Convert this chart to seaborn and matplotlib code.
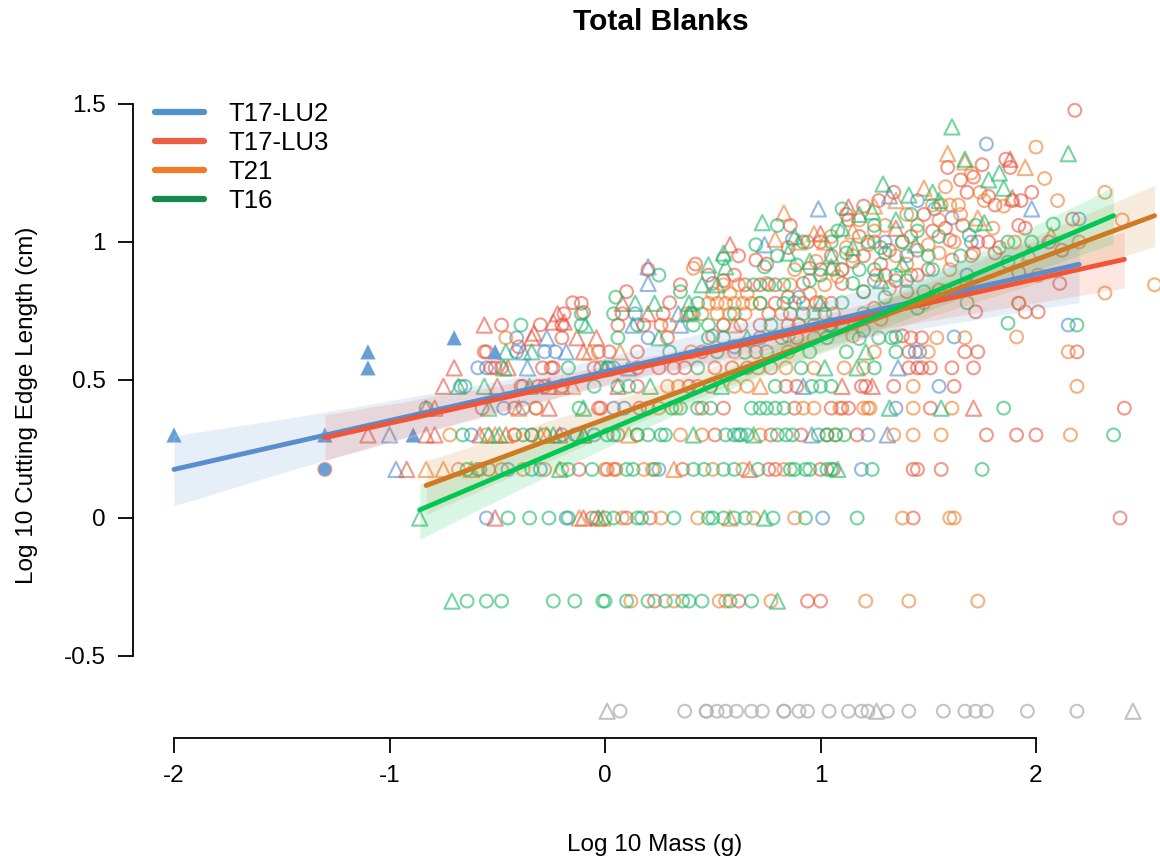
import numpy as np
import pandas as pd
import matplotlib
matplotlib.use("Agg")
import matplotlib.pyplot as plt
from matplotlib.lines import Line2D
import seaborn as sns

# groups, legend order
groups = ["T17-LU2", "T17-LU3", "T21", "T16"]

# ---- T17-LU2 (blue) ----
lu2_tri_filled = [(-2.0, 0.301), (-1.30, 0.301), (-1.10, 0.602), (-1.10, 0.544), (-0.70, 0.653),
                  (-0.89, 0.301), (-0.51, 0.602)]
lu2_circ_filled = [(-1.30, 0.176)]
lu2_tri = [(-1.00, 0.301), (-0.97, 0.176), (-0.38, 0.602), (-0.36, 0.544), (-0.27, 0.653), (-0.18, 0.602),
           (0.11, 0.544), (0.13, 0.699), (0.34, 0.74), (0.35, 0.699), (0.20, 0.91), (0.20, 0.85), (0.74, 0.99),
           (0.92, 0.477), (0.96, 0.301), (0.99, 1.12), (1.31, 0.301), (1.36, 0.544), (1.32, 1.167), (1.98, 1.12)]
lu2_circ = [(-0.67, 0.477), (-0.59, 0.544), (-0.55, 0.544), (-0.55, 0), (-0.47, 0.398), (-0.38, 0.398),
            (-0.45, 0.176), (-0.41, 0.602), (-0.41, 0.653), (-0.28, 0.602), (-0.23, 0.602), (-0.18, 0),
            (-0.13, 0.301), (-0.05, 0.301), (0.04, 0.398), (0.09, 0.398), (0.04, 0.544), (0.14, 0.74),
            (0.20, 0.653), (0.55, 0.699), (0.72, 0.653), (0.87, 1.01), (1.01, 0), (1.19, 0.176), (1.22, 0.301),
            (1.35, 0.398), (1.44, 0.602), (1.46, 0.602), (1.53, 1.12), (1.55, 0.477), (1.61, 1.087),
            (1.62, 0.656), (1.68, 0.88), (1.77, 1.355), (2.15, 0.699), (2.20, 1.083), (0.50, 0.85),
            (0.90, 0.80), (1.10, 0.90), (1.20, 0.68), (0.60, 0.62), (1.40, 0.95),
            (1.30, 1.0), (1.70, 1.0), (1.25, 0.86), (0.62, 0.301), (1.45, 1.15),
            (-0.30, 0.176), (-0.62, 0.301), (-0.20, 0.301), (0.25, 0.176)]

# ---- T17-LU3 (red) ----
lu3_circ = [(0.23, -0.301), (0.62, -0.301), (0.94, -0.301), (1.00, -0.301),
            (-0.06, 0), (0.10, 0), (0.21, 0), (1.43, 0), (2.39, 0),
            (-1.30, 0.176), (-0.54, 0.176), (-0.12, 0.176), (0.01, 0.176), (0.05, 0.176), (0.36, 0.176),
            (0.76, 0.176), (0.79, 0.176), (1.00, 0.176), (1.06, 0.176), (1.43, 0.176), (1.45, 0.176), (1.56, 0.176),
            (-0.42, 0.301), (-0.34, 0.301), (0.06, 0.301), (0.51, 0.301), (0.77, 0.301), (0.91, 0.301),
            (1.03, 0.301), (1.17, 0.301), (1.77, 0.301), (1.91, 0.301), (2.00, 0.301),
            (-0.57, 0.398), (-0.42, 0.398), (-0.32, 0.398), (-0.03, 0.398), (-0.02, 0.398), (0.16, 0.398),
            (0.20, 0.398), (0.45, 0.398), (0.55, 0.398), (0.88, 0.398), (1.05, 0.398), (1.10, 0.398),
            (1.13, 0.398), (1.51, 0.398), (2.41, 0.398),
            (-0.39, 0.477), (-0.38, 0.477), (-0.31, 0.477), (-0.28, 0.477), (-0.20, 0.477), (0.15, 0.477),
            (0.39, 0.477), (0.43, 0.477), (0.49, 0.477), (0.84, 0.477), (0.89, 0.477), (1.19, 0.477),
            (1.21, 0.477), (1.34, 0.477), (1.62, 0.477),
            (-0.53, 0.544), (-0.51, 0.544), (-0.48, 0.544), (-0.29, 0.544), (-0.25, 0.544), (-0.24, 0.544),
            (-0.05, 0.544), (-0.02, 0.544), (0.15, 0.544), (0.25, 0.544), (0.32, 0.544), (0.37, 0.544),
            (0.51, 0.544), (0.59, 0.544), (0.66, 0.544), (0.77, 0.544), (1.41, 0.544), (1.45, 0.544),
            (1.47, 0.544), (1.51, 0.544), (1.61, 0.544), (1.71, 0.544),
            (-0.56, 0.602), (-0.55, 0.602), (-0.03, 0.602), (0.02, 0.602), (0.15, 0.602), (0.45, 0.602),
            (0.70, 0.602), (1.41, 0.602), (1.67, 0.602), (1.73, 0.602), (2.19, 0.602),
            (-0.20, 0.653), (0.29, 0.653), (0.89, 0.653), (1.42, 0.653), (1.47, 0.653),
            (-0.48, 0.699), (-0.20, 0.699), (0.06, 0.699), (0.18, 0.699), (0.26, 0.699), (0.63, 0.699),
            (0.72, 0.699), (0.85, 0.699),
            (-0.19, 0.74), (-0.10, 0.745), (0.08, 0.74), (0.27, 0.74), (0.76, 0.74), (0.86, 0.74),
            (1.72, 0.747), (1.95, 0.747), (2.01, 0.747),
            (-0.11, 0.778), (0.79, 0.778), (0.92, 0.778), (1.05, 0.778), (1.92, 0.778),
            (0.35, 0.845), (0.65, 0.845), (0.72, 0.845), (0.79, 0.845), (2.11, 0.85),
            (0.70, 0.935), (0.95, 0.905), (1.61, 0.935), (1.71, 0.96), (1.81, 0.96), (1.92, 0.89), (1.55, 0.826),
            (0.94, 1.0), (1.60, 1.007), (1.73, 1.0), (1.78, 1.0), (1.83, 0.98), (2.06, 1.0), (2.12, 0.97),
            (0.86, 1.06), (1.13, 1.08), (1.27, 1.15), (1.34, 1.18), (1.59, 1.27), (1.65, 1.225), (1.68, 1.18),
            (1.71, 1.235), (1.75, 1.28), (1.78, 1.165), (1.81, 1.134), (1.86, 1.30), (1.88, 1.27), (1.89, 1.15),
            (1.92, 1.06), (1.93, 1.15), (1.98, 1.18), (2.17, 1.083), (2.18, 1.477),
            (0.10, 0.82), (0.30, 0.78), (0.55, 0.86), (0.85, 0.80), (1.00, 0.90), (1.10, 0.85), (1.20, 0.95),
            (1.30, 0.88), (1.40, 0.82), (1.50, 0.90), (1.10, 0.70), (1.25, 0.76), (1.38, 0.66), (1.45, 0.97),
            (1.18, 1.02), (0.42, 0.92), (0.62, 0.95), (-0.15, 0.78), (-0.30, 0.70), (1.52, 1.04), (0.20, 0.90),
            (0.50, 0.66), (0.40, 0.74), (-0.40, 0.62),
            (1.00, 1.0), (1.05, 0.95), (1.12, 1.10), (1.20, 1.13), (1.25, 1.0), (1.32, 0.97),
            (1.42, 1.02), (1.48, 1.10), (1.58, 1.05), (1.66, 1.06),
            (1.35, 0.86), (1.28, 0.92), (0.75, 0.92), (0.85, 0.98), (0.92, 0.85), (1.15, 0.93), (1.45, 0.88),
            (1.95, 1.05), (0.60, 0.88), (0.48, 0.88), (0.98, 0.78)]
lu3_tri = [(-0.51, 0), (-0.10, 0), (-0.03, 0), (-0.92, 0.176), (0.67, 0.176),
           (-1.10, 0.301), (-0.83, 0.301), (-0.79, 0.301), (-0.58, 0.301), (-0.46, 0.301), (-0.21, 0.301),
           (-0.83, 0.398), (-0.79, 0.398), (-0.26, 0.398), (1.71, 0.398),
           (-0.75, 0.477), (-0.50, 0.477), (-0.26, 0.477), (0.06, 0.477), (1.10, 0.477), (1.24, 0.477),
           (-0.70, 0.544), (-0.45, 0.544), (-0.10, 0.602), (-0.34, 0.653), (-0.13, 0.653), (-0.04, 0.653),
           (-0.56, 0.699), (-0.24, 0.71), (-0.19, 0.71), (-0.22, 0.74), (0.20, 0.74), (0.08, 0.778),
           (0.58, 0.99), (1.13, 1.127), (1.88, 1.30), (1.89, 1.16), (1.00, 1.03), (1.35, 1.05), (-0.33, 0.67)]

# ---- T21 (orange) ----
t21_circ = [(0.12, -0.301), (0.32, -0.301), (0.53, -0.301), (0.56, -0.301), (0.77, -0.301), (1.21, -0.301),
            (1.41, -0.301), (1.73, -0.301),
            (0.08, 0), (0.26, 0), (0.43, 0), (0.69, 0), (0.88, 0), (1.38, 0), (1.60, 0), (1.62, 0),
            (-0.68, 0.176), (-0.58, 0.176), (-0.48, 0.176), (-0.38, 0.176), (-0.28, 0.176), (-0.20, 0.176),
            (0.00, 0.176), (0.04, 0.176), (0.18, 0.176), (0.22, 0.176), (0.50, 0.176), (0.64, 0.176),
            (0.83, 0.176),
            (-0.72, 0.301), (-0.55, 0.301), (-0.42, 0.301), (0.15, 0.301), (0.35, 0.301), (0.45, 0.301),
            (0.72, 0.301), (1.07, 0.301), (1.34, 0.301), (1.43, 0.301), (1.56, 0.301), (2.16, 0.301),
            (-0.32, 0.398), (0.25, 0.398), (0.33, 0.398), (0.92, 0.398), (0.97, 0.398), (1.09, 0.398),
            (1.20, 0.398), (1.22, 0.398), (1.23, 0.398), (1.43, 0.398), (1.61, 0.398),
            (0.29, 0.477), (0.34, 0.477), (0.60, 0.477), (0.66, 0.477), (1.43, 0.477), (2.19, 0.477),
            (0.71, 0.544), (0.84, 0.544), (0.97, 0.544), (1.11, 0.544), (1.20, 0.544),
            (0.40, 0.602), (0.60, 0.602), (0.85, 0.602), (1.25, 0.602), (1.50, 0.602), (2.15, 0.602),
            (-0.46, 0.653), (0.97, 0.653), (1.54, 0.653), (1.67, 0.653), (1.91, 0.656),
            (0.30, 0.699), (0.55, 0.699), (0.90, 0.699),
            (0.38, 0.74), (0.45, 0.74), (0.52, 0.74), (0.58, 0.74), (0.65, 0.74), (0.82, 0.74), (0.97, 0.74),
            (1.06, 0.74),
            (0.48, 0.778), (0.52, 0.778), (0.56, 0.778), (0.60, 0.778), (0.64, 0.778), (0.68, 0.778),
            (0.72, 0.778), (1.92, 0.778),
            (0.86, 0.845), (1.68, 0.845), (2.32, 0.815), (2.55, 0.845), (2.01, 0.88), (0.41, 0.905),
            (0.88, 0.90), (1.06, 0.90), (1.55, 0.96), (1.52, 1.134), (1.56, 1.134), (1.60, 1.134),
            (1.64, 1.134), (1.74, 1.18), (1.76, 1.15), (2.00, 1.344), (2.04, 1.23), (2.32, 1.18), (2.40, 1.08),
            (1.00, 0.78), (1.10, 0.90), (1.20, 0.82), (1.28, 0.72), (1.35, 0.95), (1.42, 0.88), (1.48, 0.78),
            (1.15, 0.66), (1.05, 1.02), (1.30, 1.06),
            (1.40, 1.10), (1.60, 0.90), (0.90, 0.70), (0.75, 0.85),
            (0.50, 0.813), (0.58, 0.813), (0.66, 0.813),
            (0.55, 0.845), (0.62, 0.845), (0.95, 0.813), (1.02, 0.845), (1.08, 0.875), (1.15, 0.95),
            (1.22, 0.99), (1.26, 0.88), (1.32, 0.83), (1.38, 1.0), (1.45, 1.06), (1.50, 0.99), (1.55, 1.08),
            (1.62, 1.0), (1.65, 1.10), (1.70, 0.95), (1.80, 1.05), (1.85, 1.13), (1.40, 0.92), (1.18, 1.08),
            (1.12, 0.98), (0.98, 0.93), (1.25, 1.04), (1.58, 1.20), (1.70, 1.25), (1.90, 1.0), (2.20, 1.0),
            (2.10, 1.15)]
t21_tri = [(-0.01, 0), (-0.12, 0), (0.58, 0), (-0.83, 0.176), (-0.75, 0.176), (-0.62, 0.176), (0.32, 0.176),
           (-0.51, 0.301), (-0.30, 0.301), (-0.27, 0.301), (-0.10, 0.301), (0.11, 0.301), (-0.40, 0.398),
           (-0.20, 0.477), (-0.15, 0.477), (0.72, 0.477), (-0.07, 0.602), (0.07, 0.602),
           (0.79, 1.01), (0.97, 1.03), (1.02, 1.0), (1.97, 0.96), (2.07, 1.025), (0.83, 1.105), (1.48, 1.195),
           (1.59, 1.32), (1.67, 1.29), (1.73, 1.087), (1.95, 1.27), (1.25, 1.13), (0.60, 0.70),
           (1.35, 1.15), (1.15, 1.04), (0.90, 1.0)]

# ---- T16 (green) ----
t16_circ = [(-0.64, -0.301), (-0.55, -0.301), (-0.48, -0.301), (-0.24, -0.301), (-0.14, -0.301),
            (-0.01, -0.301), (0.00, -0.301), (0.10, -0.301), (0.20, -0.301), (0.28, -0.301), (0.36, -0.301),
            (0.39, -0.301), (0.45, -0.301), (0.58, -0.301), (0.68, -0.301),
            (-0.45, 0), (-0.35, 0), (-0.26, 0), (-0.17, 0), (-0.04, 0), (0.00, 0), (0.04, 0), (0.15, 0),
            (0.17, 0), (0.32, 0), (0.48, 0), (0.50, 0), (0.55, 0), (0.60, 0), (0.65, 0), (0.78, 0), (0.93, 0),
            (1.17, 0),
            (-0.64, 0.176), (-0.59, 0.176), (-0.34, 0.176), (-0.17, 0.176), (-0.06, 0.176), (0.10, 0.176),
            (0.13, 0.176), (0.23, 0.176), (0.41, 0.176), (0.46, 0.176), (0.55, 0.176), (0.60, 0.176),
            (0.71, 0.176), (0.86, 0.176), (0.88, 0.176), (0.93, 0.176), (0.95, 0.176), (1.03, 0.176),
            (1.05, 0.176), (1.24, 0.176), (1.75, 0.176),
            (-0.66, 0.301), (-0.38, 0.301), (-0.34, 0.301), (-0.28, 0.301), (-0.14, 0.301), (0.01, 0.301),
            (0.04, 0.301), (0.15, 0.301), (0.20, 0.301), (0.26, 0.301), (0.28, 0.301), (0.56, 0.301),
            (0.60, 0.301), (0.63, 0.301), (0.66, 0.301), (0.80, 0.301), (0.84, 0.301), (0.87, 0.301),
            (0.99, 0.301), (1.03, 0.301), (1.07, 0.301), (1.11, 0.301), (2.36, 0.301),
            (-0.83, 0.398), (-0.12, 0.398), (0.31, 0.398), (0.35, 0.398), (0.43, 0.398), (0.49, 0.398),
            (0.68, 0.398), (0.72, 0.398), (0.75, 0.398), (0.79, 0.398), (0.83, 0.398), (1.85, 0.398),
            (-0.65, 0.477), (-0.05, 0.477), (0.06, 0.477), (0.11, 0.477), (0.79, 0.477), (0.96, 0.477),
            (1.00, 0.477), (1.05, 0.477),
            (-0.17, 0.544), (0.01, 0.544), (0.02, 0.544), (0.43, 0.544), (0.91, 0.544), (1.25, 0.544),
            (0.30, 0.602), (0.52, 0.602), (0.75, 0.602), (0.95, 0.602), (1.12, 0.602), (1.35, 0.602),
            (0.06, 0.653), (0.48, 0.653), (0.55, 0.653), (0.82, 0.653), (1.03, 0.653), (1.27, 0.653),
            (1.33, 0.653), (1.35, 0.656),
            (-0.39, 0.699), (-0.11, 0.699), (0.41, 0.699), (0.48, 0.699), (0.77, 0.699), (0.97, 0.699),
            (1.04, 0.699), (1.87, 0.706), (2.19, 0.699),
            (-0.11, 0.74), (0.04, 0.74), (0.41, 0.74), (0.92, 0.74), (1.02, 0.74),
            (0.43, 0.778), (0.72, 0.778), (0.83, 0.778), (1.68, 0.78),
            (0.69, 0.845), (0.76, 0.845), (0.83, 0.845),
            (0.25, 0.88), (0.74, 0.91), (0.89, 0.917), (1.87, 0.927), (1.87, 1.0), (1.98, 1.0), (1.69, 1.025),
            (1.08, 1.04), (2.08, 1.065), (0.80, 1.06),
            (1.05, 0.70), (1.10, 0.78), (1.15, 0.85), (1.20, 0.74), (1.25, 0.90), (1.30, 0.80), (1.40, 0.86),
            (1.45, 0.76), (1.50, 0.95), (1.12, 0.96), (1.22, 1.0), (1.30, 0.96), (1.45, 1.04), (1.58, 0.82),
            (1.18, 0.65), (0.05, 0.80), (0.15, 0.70), (0.35, 0.82), (0.60, 0.74), (0.88, 0.78), (0.95, 0.86),
            (0.55, 0.94), (0.65, 0.60), (0.85, 0.66), (0.70, 0.99),
            (1.05, 1.0), (1.10, 1.12), (1.18, 0.90), (1.25, 1.06), (1.38, 1.0), (1.42, 1.10),
            (1.55, 1.02), (1.65, 0.95), (1.72, 1.06), (1.35, 0.88), (1.20, 0.82),
            (1.00, 0.88), (0.92, 1.0), (0.80, 0.95), (1.52, 0.90), (1.48, 0.82), (1.28, 0.98)]
t16_tri = [(-0.71, -0.301), (0.80, -0.301), (-0.86, 0), (0.74, 0), (-0.21, 0.176), (1.08, 0.176),
           (-0.54, 0.301), (-0.49, 0.301), (-0.24, 0.301), (-0.10, 0.301), (0.41, 0.301), (0.69, 0.301),
           (-0.54, 0.398), (-0.10, 0.398), (1.32, 0.398), (1.56, 0.398),
           (-0.68, 0.477), (-0.56, 0.477), (-0.35, 0.477), (0.21, 0.477), (0.54, 0.477),
           (-0.47, 0.544), (0.00, 0.544), (1.02, 0.544), (1.17, 0.544), (-0.46, 0.602), (-0.34, 0.602),
           (1.21, 0.602), (0.25, 0.653), (0.66, 0.653), (-0.09, 0.699), (0.39, 0.74), (0.14, 0.778),
           (0.23, 0.778), (0.39, 0.778), (1.00, 0.778), (0.45, 0.845), (0.52, 0.845), (0.48, 0.917),
           (0.56, 0.91), (1.05, 0.91), (0.55, 0.96), (0.85, 0.96), (0.73, 1.07), (1.24, 1.11), (1.29, 1.21),
           (1.52, 1.18), (1.41, 1.17), (1.76, 1.07), (1.85, 1.195), (1.78, 1.225), (1.83, 1.25), (1.67, 1.30),
           (1.61, 1.417), (2.15, 1.32), (1.05, 0.95), (1.15, 0.98), (1.28, 0.86), (1.38, 0.92), (1.44, 0.99),
           (1.10, 1.05), (0.95, 0.93), (1.18, 1.10), (1.35, 1.08), (0.88, 1.02), (1.55, 1.15)]

# blanks with no cutting edge length, drawn in grey below the data
gray_y = -0.7
gray_circ_x = [0.07, 0.37, 0.47, 0.47, 0.52, 0.56, 0.61, 0.68, 0.73, 0.83, 0.83, 0.90, 0.94, 1.04,
               1.13, 1.19, 1.22, 1.31, 1.41, 1.57, 1.67, 1.72, 1.77, 1.96, 2.19]
gray_tri_x = [0.01, 1.26, 2.45]

pt_colors = {"T17-LU2": "#4f8bd0", "T17-LU3": "#e8553f", "T21": "#f07d2c", "T16": "#1db866"}
line_colors = {"T17-LU2": "#5a8dcd", "T17-LU3": "#f25535", "T21": "#cf7a22", "T16": "#00c853"}
legend_colors = {"T17-LU2": "#4f90cd", "T17-LU3": "#ea5f45", "T21": "#f07c2b", "T16": "#168a4c"}

sets = {
    "T17-LU2": (lu2_circ, lu2_tri),
    "T17-LU3": (lu3_circ, lu3_tri),
    "T21": (t21_circ, t21_tri),
    "T16": (t16_circ, t16_tri),
}

sns.set_style("white")
plt.rcParams["font.family"] = ["Liberation Sans", "DejaVu Sans"]
plt.rcParams["text.color"] = "black"
plt.rcParams["axes.labelcolor"] = "black"
plt.rcParams["xtick.color"] = "black"
plt.rcParams["ytick.color"] = "black"

fig = plt.figure(figsize=(11.6, 8.65), dpi=100)
ax = fig.add_axes([133 / 1160, 1 - 738 / 865, 1027 / 1160, 648 / 865])

def frame(pts):
    return pd.DataFrame(pts, columns=["mass", "edge"])

CIRC_S, TRI_S, LW, ALPHA = 85, 120, 1.5, 0.6

# grey points
sns.scatterplot(x=gray_circ_x, y=[gray_y] * len(gray_circ_x), marker="o", s=CIRC_S,
                facecolor="none", edgecolor="#b5b5b5", linewidth=LW, alpha=0.8, ax=ax)
sns.scatterplot(x=gray_tri_x, y=[gray_y] * len(gray_tri_x), marker="^", s=TRI_S,
                facecolor="none", edgecolor="#b5b5b5", linewidth=LW, alpha=0.8, ax=ax)

# coloured points
for g in groups:
    circ, tri = sets[g]
    dc, dt = frame(circ), frame(tri)
    sns.scatterplot(data=dc, x="mass", y="edge", marker="o", s=CIRC_S, facecolor="none",
                    edgecolor=pt_colors[g], linewidth=LW, alpha=ALPHA, ax=ax)
    sns.scatterplot(data=dt, x="mass", y="edge", marker="^", s=TRI_S, facecolor="none",
                    edgecolor=pt_colors[g], linewidth=LW, alpha=ALPHA, ax=ax)

sns.scatterplot(data=frame(lu2_tri_filled), x="mass", y="edge", marker="^", s=TRI_S,
                color="#6a9fd6", edgecolor="none", ax=ax)
sns.scatterplot(data=frame(lu2_circ_filled), x="mass", y="edge", marker="o", s=CIRC_S,
                color="#6a9fd6", edgecolor="none", ax=ax)

# regression lines with 95% bands
for g in groups:
    circ, tri = sets[g]
    pts = circ + tri
    if g == "T17-LU2":
        pts = pts + lu2_tri_filled + lu2_circ_filled
    d = frame(pts)
    sns.regplot(data=d, x="mass", y="edge", scatter=False, ci=95, seed=3, truncate=True,
                color=line_colors[g], line_kws={"lw": 3.5, "zorder": 4, "solid_capstyle": "round"}, ax=ax)

ax.set_xlim(-2 - 41 / 215.5, 2 + 124 / 215.5)
ax.set_ylim(-220 / 276, 1.5 + 14 / 276)

for s in ["top", "right"]:
    ax.spines[s].set_visible(False)
for s in ["left", "bottom"]:
    ax.spines[s].set_linewidth(1.3)
    ax.spines[s].set_color("black")
ax.spines["left"].set_bounds(-0.5, 1.5)
ax.spines["bottom"].set_bounds(-2, 2)

ax.set_xticks([-2, -1, 0, 1, 2])
ax.set_xticklabels(["-2", "-1", "0", "1", "2"])
ax.set_yticks([-0.5, 0, 0.5, 1, 1.5])
ax.set_yticklabels(["-0.5", "0", "0.5", "1", "1.5"])
ax.tick_params(axis="both", direction="out", length=10.5, width=1.3, color="black",
               labelcolor="black", labelsize=17.5, pad=9, left=True, bottom=True)
ax.set_xlabel("")
ax.set_ylabel("")

fig.text(661 / 1160, 1 - 22 / 865, "Total Blanks", ha="center", va="center",
         fontsize=21.5, fontweight="bold", color="black")
fig.text(655 / 1160, 1 - 845 / 865, "Log 10 Mass (g)", ha="center", va="center",
         fontsize=17.5, color="black")
fig.text(27 / 1160, 1 - 405 / 865, "Log 10 Cutting Edge Length (cm)", ha="center", va="center",
         rotation=90, fontsize=17.5, color="black")

handles = [Line2D([0], [0], color=legend_colors[g], lw=4.5, solid_capstyle="round") for g in groups]
leg = ax.legend(handles, groups, loc="upper left", bbox_to_anchor=(155 / 1160, 1 - 102 / 865),
                bbox_transform=fig.transFigure, frameon=False, fontsize=18.5, handlelength=1.9,
                handletextpad=0.95, labelspacing=0.2, borderpad=0, borderaxespad=0)
for t in leg.get_texts():
    t.set_color("black")

fig.savefig("out.png", dpi=100)
